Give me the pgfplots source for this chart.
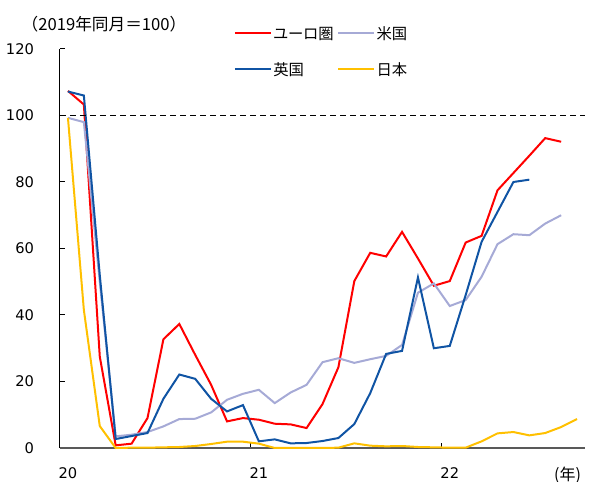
\documentclass[border=0pt]{standalone}
\usepackage{pgfplots}
\pgfplotsset{compat=1.18}
\usepackage{fontspec}
\setmainfont{DejaVu Sans}
\newfontfamily\cjk{Noto Sans CJK JP}
\newfontfamily\cjkp{Noto Sans CJK JP}[RawFeature=+palt]
\definecolor{cRed}{RGB}{255,0,0}
\definecolor{cBlue}{RGB}{16,84,164}
\definecolor{cLav}{RGB}{166,170,214}
\definecolor{cYel}{RGB}{255,192,0}
\newcommand{\lt}[1]{\makebox[48pt][l]{\rule[-3pt]{0pt}{13pt}#1}}
\begin{document}
\begin{tikzpicture}
\begin{axis}[
  at={(0,0)}, anchor=south west,
  scale only axis, width=393.75pt, height=299.25pt,
  xmin=-0.5, xmax=32.5, ymin=0, ymax=120,
  axis x line*=bottom, axis y line*=left,
  x axis line style={black!65, line width=1pt},
  y axis line style={black, line width=0.75pt},
  ytick={0,20,...,120},
  xtick={11.5,23.5}, xticklabels={},
  extra x ticks={0,12,24,31.4},
  extra x tick labels={20,21,22,{\raisebox{1.5pt}{\cjk\fontsize{12}{13}\selectfont (年)}}},
  extra x tick style={major tick length=0pt, xticklabel style={yshift=-11pt}},
  tick align=inside, major tick length=3.75pt,
  tick style={black, line width=0.75pt},
  tick label style={font=\fontsize{11}{13}\selectfont},
  yticklabel style={xshift=-16pt},
  /pgf/number format/assume math mode=true,
  clip=false,
  legend columns=2,
  legend cell align=left,
  legend image code/.code={\draw[#1] (0pt,0pt) -- (27pt,0pt);},
  legend style={at={(0.3314,1.058)}, anchor=north west, draw=none, fill=none,
    inner sep=0pt, outer sep=0pt, font=\cjkp\fontsize{11.5}{13}\selectfont,
    nodes={inner sep=0pt, text depth=0pt},
    /tikz/every odd column/.append style={column sep=1pt},
    /tikz/every even column/.append style={column sep=0pt},
    row sep=17.5pt},
]
\addplot[cRed, line width=1.5pt] coordinates {
(0,107.4)(1,103.3)(2,27.5)(3,0.8)(4,1.3)(5,9.0)(6,32.7)(7,37.3)(8,28.0)(9,19.0)(10,8.0)(11,9.0)(12,8.5)(13,7.3)(14,7.1)(15,6.0)(16,13.2)(17,24.3)(18,50.2)(19,58.7)(20,57.6)(21,65.0)(22,57.0)(23,48.8)(24,50.2)(25,61.8)(26,63.8)(27,77.5)(28,82.7)(29,87.9)(30,93.2)(31,92.1)};
\addlegendentry{\lt{ユーロ圏}}
\addplot[cLav, line width=1.5pt] coordinates {
(0,99.3)(1,98.0)(2,50.0)(3,3.5)(4,4.0)(5,4.8)(6,6.5)(7,8.7)(8,8.8)(9,10.7)(10,14.5)(11,16.3)(12,17.5)(13,13.5)(14,16.7)(15,19.0)(16,25.8)(17,27.0)(18,25.6)(19,26.7)(20,27.7)(21,31.0)(22,46.7)(23,49.5)(24,42.7)(25,44.5)(26,51.5)(27,61.3)(28,64.3)(29,64.0)(30,67.5)(31,70.0)};
\addlegendentry{\lt{米国}}
\addplot[cBlue, line width=1.5pt] coordinates {
(0,107.2)(1,106.0)(2,52.0)(3,2.7)(4,3.6)(5,4.5)(6,14.8)(7,22.1)(8,20.8)(9,14.8)(10,11.0)(11,12.9)(12,2.0)(13,2.6)(14,1.4)(15,1.5)(16,2.1)(17,3.0)(18,7.2)(19,16.5)(20,28.3)(21,29.2)(22,51.3)(23,30.0)(24,30.7)(25,46.0)(26,62.0)(27,71.0)(28,80.0)(29,80.7)};
\addlegendentry{\lt{英国}}
\addplot[cYel, line width=1.5pt] coordinates {
(0,99.3)(1,41.5)(2,6.6)(3,0.0)(4,0.1)(5,0.1)(6,0.2)(7,0.3)(8,0.6)(9,1.2)(10,1.9)(11,1.9)(12,1.3)(13,0.0)(14,0.0)(15,0.0)(16,0.0)(17,0.1)(18,1.4)(19,0.7)(20,0.5)(21,0.6)(22,0.3)(23,0.2)(24,0.1)(25,0.1)(26,2.0)(27,4.4)(28,4.8)(29,3.8)(30,4.5)(31,6.3)(32,8.7)};
\addlegendentry{\lt{日本}}
\addplot[black, line width=1.1pt, dash pattern=on 4.5pt off 3pt, forget plot] coordinates {(-0.5,100)(32.5,100)};
\end{axis}
\node[anchor=west, inner sep=0pt, font=\cjk\fontsize{12.5}{14}\selectfont] at (-29pt,318pt) {（2019年同月＝100）};
\pgfresetboundingbox
\path (-45pt,-25.5pt) rectangle (397.5pt,336pt);
\end{tikzpicture}
\end{document}
